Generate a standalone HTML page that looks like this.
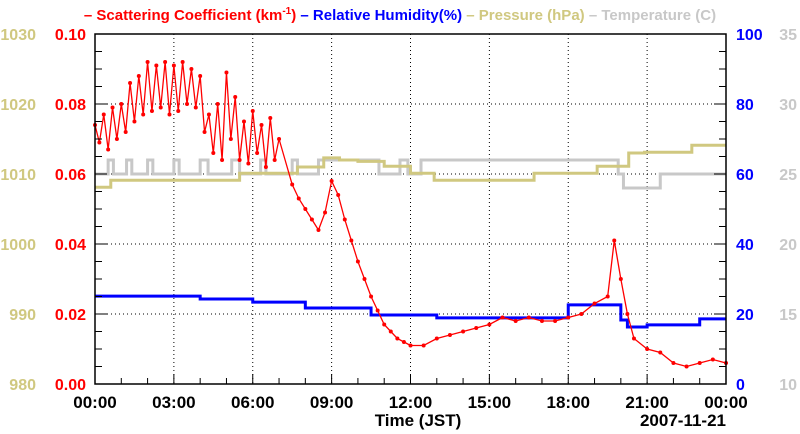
<!DOCTYPE html>
<html><head><meta charset="utf-8"><style>
html,body{margin:0;padding:0;background:#fff}
svg{display:block;font-family:"Liberation Sans",sans-serif;font-weight:bold}
</style></head><body>
<svg id="c" width="800" height="434" viewBox="0 0 800 434">
<g>
<text x="400" y="20" text-anchor="middle" font-size="15"><tspan fill="#f00">– Scattering Coefficient (km<tspan dy="-6" font-size="10">-1</tspan><tspan dy="6">)</tspan></tspan><tspan fill="#00f"> – Relative Humidity(%)</tspan><tspan fill="#d0c880"> – Pressure (hPa)</tspan><tspan fill="#c8c8c8"> – Temperature (C)</tspan></text>
</g>
<g id="grid"></g>
<g id="series"></g>
<g id="axes"></g>
<text x="418" y="426" text-anchor="middle" font-size="17">Time (JST)</text>
<text x="726" y="426" text-anchor="end" font-size="17">2007-11-21</text>
</svg>
<script>
const xTickLabels=["00:00","03:00","06:00","09:00","12:00","15:00","18:00","21:00","00:00"];
const scatTicks=["0.00","0.02","0.04","0.06","0.08","0.10"];
const pressTicks=["980","990","1000","1010","1020","1030"];
const rhTicks=["0","20","40","60","80","100"];
const tempTicks=["10","15","20","25","30","35"];
const scatT=[0,1/6,2/6,3/6,4/6,5/6,1,7/6,8/6,9/6,10/6,11/6,2,13/6,14/6,15/6,16/6,17/6,3,19/6,20/6,21/6,22/6,23/6,4,25/6,26/6,27/6,28/6,29/6,5,31/6,32/6,33/6,34/6,35/6,6,37/6,38/6,39/6,40/6,41/6,7,7.5,7.75,8,8.25,8.5,8.75,9,9.25,9.5,9.75,10,10.25,10.5,10.75,11,11.25,11.5,11.75,12,12.5,13,13.5,14,14.5,15,15.5,16,16.5,17,17.5,18,18.5,19,19.5,19.75,20,20.25,20.5,21,21.5,22,22.5,23,23.5,24];
const scatV=[.074,.069,.077,.067,.079,.070,.080,.072,.086,.075,.088,.077,.092,.078,.091,.079,.092,.077,.091,.078,.092,.080,.090,.079,.088,.072,.077,.066,.080,.064,.089,.070,.082,.064,.075,.063,.078,.066,.074,.062,.076,.064,.070,.057,.053,.050,.047,.044,.049,.058,.054,.047,.041,.035,.030,.025,.021,.017,.015,.013,.012,.011,.011,.013,.014,.015,.016,.017,.019,.018,.019,.018,.018,.019,.020,.023,.025,.041,.030,.020,.013,.010,.009,.006,.005,.006,.007,.006];
const rhT=[0,4,6,8,10.5,13,18,19.75,20,20.25,21,23,24];
const rhV=[25.1,24.3,23.4,21.7,19.7,18.9,22.6,22.6,18.3,16.3,16.9,18.6,18.6];
const prT=[0,0.6,5.5,7.7,8.7,9.3,10,11,12,12.9,16.7,19.1,20.3,20.9,22.7,24];
const prV=[1008.1,1009.1,1010.1,1011,1012.3,1012,1011.8,1011.1,1010.1,1009.1,1010.1,1011.1,1013,1013.1,1014.1,1014.1];
const tpT=[0,0.5,0.7,1.2,1.4,2.0,2.2,3.0,3.2,4.0,4.3,5.2,5.5,6.3,6.5,7.5,7.7,8.5,8.8,10.5,10.8,11.6,11.9,12.4,12.7,19.9,20.1,21.5,24];
const tpV=[25,26,25,26,25,26,25,26,25,26,25,26,25,26,25,26,25,26,26,26,25,26,25,26,26,25,24,25,25];
const L=95,R=726,T=34,B=384,NS="http://www.w3.org/2000/svg";
const xs=h=>L+(R-L)*h/24;
const ySc=v=>B-(B-T)*v/0.10;
const yRh=v=>B-(B-T)*v/100;
const yPr=v=>B-(B-T)*(v-980)/50;
const yTp=v=>B-(B-T)*(v-10)/25;
function mk(tag,at,parent){const e=document.createElementNS(NS,tag);for(const k in at)e.setAttribute(k,at[k]);document.getElementById(parent).appendChild(e);return e;}
for(let i=1;i<8;i++){const g=mk('line',{x1:xs(i*3),x2:xs(i*3),y1:T,y2:B,stroke:'#000','stroke-dasharray':'1,3'},'grid');

}
for(let i=1;i<5;i++){const g=mk('line',{x1:L,x2:R,y1:ySc(i*0.02),y2:ySc(i*0.02),stroke:'#000','stroke-dasharray':'1,3'},'grid');

}
function stepSimple(T_,V_,fy,color,w,name){let d='';for(let i=0;i<T_.length;i++){const x=xs(T_[i]),y=fy(V_[i]);d+=(i?'H'+x+'V'+y:'M'+x+','+y);}
d+='H'+xs(24);
const p=mk('path',{d:d,fill:'none',stroke:color,'stroke-width':w},'series');

}
stepSimple(tpT,tpV,yTp,'#c8c8c8',3,'temperature-line');
stepSimple(prT,prV,yPr,'#d0c880',3,'pressure-line');
stepSimple(rhT,rhV,yRh,'#0000ff',3,'humidity-line');
let d='';scatT.forEach((t,i)=>{d+=(i?'L':'M')+xs(t)+','+ySc(scatV[i]);});
const sl=mk('path',{d:d,fill:'none',stroke:'#f00','stroke-width':1.3},'series');


scatT.forEach((t,i)=>{const c=mk('circle',{cx:xs(t),cy:ySc(scatV[i]),r:2,fill:'#f00'},'series');

});
const fr=mk('rect',{x:L,y:T,width:R-L,height:B-T,fill:'none',stroke:'#000','stroke-width':1.5},'axes');


for(let i=0;i<=24;i++){const x=xs(i),len=i%3==0?10:6;const tk=mk('line',{x1:x,x2:x,y1:B,y2:B-len,stroke:'#000'},'axes');

}
for(let i=0;i<=20;i++){const y=B-(B-T)*i/20,len=i%4==0?12:7;
const a=mk('line',{x1:L,x2:L+len,y1:y,y2:y,stroke:'#000'},'axes');


const b=mk('line',{x1:R,x2:R-len,y1:y,y2:y,stroke:'#000'},'axes');

}
xTickLabels.forEach((s,i)=>{const t=mk('text',{x:xs(i*3),y:408,'text-anchor':'middle','font-size':17,fill:'#000'},'axes');t.textContent=s;

});
function ylab(arr,x,anchor,color,name){arr.forEach((s,i)=>{const t=mk('text',{x:x,y:B-(B-T)*i/5+6,'text-anchor':anchor,'font-size':16,fill:color},'axes');t.textContent=s;

});}
ylab(scatTicks,86,'end','#f00','scattering-tick-label');
ylab(pressTicks,36,'end','#d0c880','pressure-tick-label');
ylab(rhTicks,736,'start','#00f','humidity-tick-label');
ylab(tempTicks,797,'end','#c8c8c8','temperature-tick-label');
</script>
</body></html>
